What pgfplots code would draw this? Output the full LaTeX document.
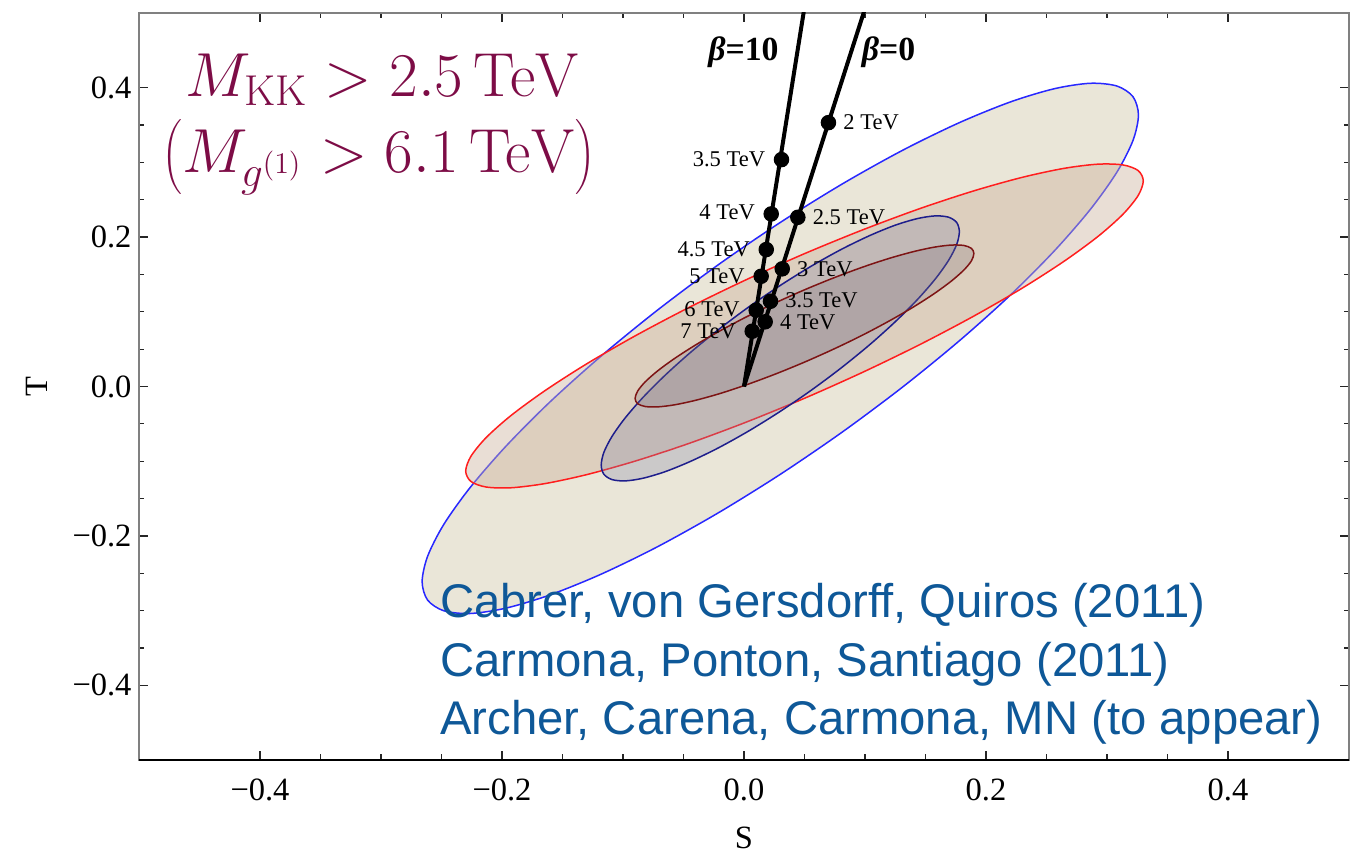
\documentclass[border=0pt]{standalone}
\usepackage[no-math]{fontspec}
\setmainfont{Liberation Serif}
\newfontfamily\helv{Liberation Sans}
\usepackage{pgfplots}
\pgfplotsset{compat=1.18}
\definecolor{kkred}{RGB}{125,12,70}
\definecolor{refblue}{RGB}{14,88,152}
\definecolor{ellblue}{RGB}{40,40,255}
\definecolor{ellred}{RGB}{255,30,30}
\definecolor{ellnavy}{RGB}{30,30,140}
\definecolor{ellmaroon}{RGB}{125,20,20}
\definecolor{fillA}{rgb}{0.82,0.78,0.66}
\definecolor{fillB}{rgb}{0.80,0.70,0.62}
\definecolor{fillC}{rgb}{0.52,0.53,0.66}
\definecolor{fillD}{rgb}{0.50,0.45,0.48}
\begin{document}
\begin{tikzpicture}[
  labR/.style={anchor=west, inner sep=0pt, xshift=5.8pt, font=\fontsize{9}{9}\selectfont},
  labL/.style={anchor=east, inner sep=0pt, xshift=-6.4pt, font=\fontsize{9}{9}\selectfont},
  refs/.style={anchor=base west, inner sep=0pt, text=refblue, font=\helv\fontsize{18.9}{18.9}\selectfont},
  kk/.style={anchor=base, inner sep=0pt, text=kkred, font=\fontsize{23}{23}\selectfont},
]
\begin{axis}[
  scale only axis, width=484pt, height=298.8pt,
  xmin=-0.5, xmax=0.5, ymin=-0.5, ymax=0.5,
  xtick={-0.4,-0.2,0,0.2,0.4}, ytick={-0.4,-0.2,0,0.2,0.4},
  xticklabels={\textrm{−0.4},\textrm{−0.2},\textrm{0.0},\textrm{0.2},\textrm{0.4}},
  yticklabels={\textrm{−0.4},\textrm{−0.2},\textrm{0.0},\textrm{0.2},\textrm{0.4}},
  minor x tick num=3, minor y tick num=3,
  tick align=inside,
  major tick length=3.6pt, minor tick length=2.2pt,
  tick style={black!85, line width=0.5pt},
  axis line style={black!50, line width=0.8pt},
  ticklabel style={font=\fontsize{13}{13}\selectfont},
  xticklabel style={inner sep=0pt, yshift=-7.2pt},
  yticklabel style={inner sep=0pt, xshift=-2.8pt},
  xlabel={S}, ylabel={T},
  label style={font=\fontsize{13}{13}\selectfont, inner sep=0pt},
  xlabel style={at={([yshift=-31pt]axis description cs:0.5,0)}, anchor=center},
  ylabel style={at={([xshift=-41pt]axis description cs:0,0.5)}, anchor=center},
]
% large (outer) blue-outlined ellipse
\addplot[draw=ellblue, line width=0.6pt, fill=fillA, fill opacity=0.45, smooth cycle] coordinates {
(0.326,0.3634) (0.3215,0.3879) (0.3082,0.4022) (0.2863,0.4059) (0.2567,0.3987) (0.2203,0.3810) (0.178,0.3532) (0.1312,0.3163) (0.0814,0.2713) (0.030,0.2196) (-0.0214,0.1628) (-0.0712,0.1026) (-0.118,0.0408) (-0.1603,-0.0206) (-0.1967,-0.0799) (-0.2263,-0.1352) (-0.2482,-0.1849) (-0.2615,-0.2274) (-0.266,-0.2614) (-0.2615,-0.2859) (-0.2482,-0.3002) (-0.2263,-0.3039) (-0.1967,-0.2967) (-0.1603,-0.2790) (-0.118,-0.2512) (-0.0712,-0.2143) (-0.0214,-0.1693) (0.030,-0.1176) (0.0814,-0.0608) (0.1312,-0.0006) (0.178,0.0612) (0.2203,0.1226) (0.2567,0.1819) (0.2863,0.2372) (0.3082,0.2869) (0.3215,0.3294)
};
% large red-outlined ellipse
\addplot[draw=ellred, line width=0.6pt, fill=fillB, fill opacity=0.43, smooth cycle] coordinates {
(0.330,0.2752) (0.3257,0.2891) (0.3131,0.2966) (0.2925,0.2976) (0.2645,0.2920) (0.2300,0.2800) (0.190,0.2619) (0.1458,0.2384) (0.0986,0.2100) (0.050,0.1778) (0.0014,0.1426) (-0.0458,0.1055) (-0.090,0.0677) (-0.1300,0.0303) (-0.1645,-0.0056) (-0.1925,-0.0388) (-0.2131,-0.0684) (-0.2257,-0.0935) (-0.230,-0.1132) (-0.2257,-0.1271) (-0.2131,-0.1346) (-0.1925,-0.1356) (-0.1645,-0.1300) (-0.1300,-0.1180) (-0.090,-0.0999) (-0.0458,-0.0764) (0.0014,-0.0480) (0.050,-0.0158) (0.0986,0.0194) (0.1458,0.0565) (0.190,0.0943) (0.2300,0.1317) (0.2645,0.1676) (0.2925,0.2008) (0.3131,0.2304) (0.3257,0.2555)
};
% small navy ellipse
\addplot[draw=ellnavy, line width=0.6pt, fill=fillC, fill opacity=0.3, smooth cycle] coordinates {
(0.178,0.2072) (0.1758,0.2195) (0.1691,0.2266) (0.1582,0.2284) (0.1434,0.2248) (0.1251,0.2160) (0.104,0.2021) (0.0806,0.1837) (0.0557,0.1612) (0.030,0.1353) (0.0043,0.1069) (-0.0206,0.0768) (-0.044,0.0459) (-0.0651,0.0152) (-0.0834,-0.0145) (-0.0982,-0.0421) (-0.1091,-0.0669) (-0.1158,-0.0882) (-0.118,-0.1052) (-0.1158,-0.1175) (-0.1091,-0.1246) (-0.0982,-0.1264) (-0.0834,-0.1228) (-0.0651,-0.1140) (-0.044,-0.1001) (-0.0206,-0.0817) (0.0043,-0.0592) (0.030,-0.0333) (0.0557,-0.0049) (0.0806,0.0252) (0.104,0.0561) (0.1251,0.0868) (0.1434,0.1165) (0.1582,0.1441) (0.1691,0.1689) (0.1758,0.1902)
};
% small maroon ellipse
\addplot[draw=ellmaroon, line width=0.6pt, fill=fillD, fill opacity=0.27, smooth cycle] coordinates {
(0.190,0.1781) (0.1879,0.1850) (0.1816,0.1888) (0.1712,0.1893) (0.1572,0.1865) (0.1400,0.1805) (0.120,0.1715) (0.0979,0.1597) (0.0743,0.1455) (0.050,0.1294) (0.0257,0.1118) (0.0021,0.0933) (-0.020,0.0743) (-0.0400,0.0556) (-0.0572,0.0377) (-0.0712,0.0211) (-0.0816,0.0063) (-0.0879,-0.0062) (-0.090,-0.0161) (-0.0879,-0.0230) (-0.0816,-0.0268) (-0.0712,-0.0273) (-0.0572,-0.0245) (-0.0400,-0.0185) (-0.020,-0.0095) (0.0021,0.0023) (0.0257,0.0165) (0.050,0.0326) (0.0743,0.0502) (0.0979,0.0687) (0.120,0.0877) (0.1400,0.1064) (0.1572,0.1243) (0.1712,0.1409) (0.1816,0.1557) (0.1879,0.1680)
};
% beta lines
\addplot[black, line width=1.6pt] coordinates {(0,0) (0.1028,0.52)};
\addplot[black, line width=1.6pt] coordinates {(0,0) (0.0512,0.52)};
% mass points, beta=0
\addplot[only marks, mark=*, mark size=2.9pt, black] coordinates {
(0.0698,0.3532) (0.0445,0.2265) (0.0316,0.1575) (0.0219,0.1141) (0.0175,0.0866)
};
% mass points, beta=10
\addplot[only marks, mark=*, mark size=2.9pt, black] coordinates {
(0.0310,0.3037) (0.0225,0.2310) (0.0184,0.1833) (0.0142,0.1476) (0.0101,0.1021) (0.0068,0.0740)
};
% labels beta=0
\node[labR] at (axis cs:0.0698,0.3532) {2 TeV};
\node[labR] at (axis cs:0.0445,0.2265) {2.5 TeV};
\node[labR] at (axis cs:0.0316,0.1575) {3 TeV};
\node[labR] at (axis cs:0.0219,0.1161) {3.5 TeV};
\node[labR] at (axis cs:0.0175,0.0866) {4 TeV};
% labels beta=10
\node[labL] at (axis cs:0.0310,0.3037) {3.5 TeV};
\node[labL] at (axis cs:0.0225,0.2330) {4 TeV};
\node[labL] at (axis cs:0.0184,0.1833) {4.5 TeV};
\node[labL] at (axis cs:0.0142,0.1476) {5 TeV};
\node[labL] at (axis cs:0.0101,0.1030) {6 TeV};
\node[labL] at (axis cs:0.0068,0.0740) {7 TeV};
\node[font=\fontsize{13.5}{13.5}\selectfont\bfseries] at (axis cs:-0.0005,0.448) {\textit{β}=10};
\node[font=\fontsize{13.5}{13.5}\selectfont\bfseries] at (axis cs:0.1194,0.448) {\textit{β}=0};
% annotations
\node[kk] at (axis cs:-0.2988,0.388) {$M_{\mathrm{KK}} > 2.5\,\mathrm{TeV}$};
\node[kk] at (axis cs:-0.302,0.2863) {$\left(M_{g^{(1)}} > 6.1\,\mathrm{TeV}\right)$};
\node[refs] at (axis cs:-0.2515,-0.309) {Cabrer, von Gersdorff, Quiros (2011)};
\node[refs] at (axis cs:-0.2515,-0.388) {Carmona, Ponton, Santiago (2011)};
\node[refs] at (axis cs:-0.2515,-0.4656) {Archer, Carena, Carmona, MN (to appear)};
\end{axis}
\draw[black, line width=0.8pt] (current axis.south west) -- (current axis.south east);
\pgfresetboundingbox
\path ([shift={(-55.6pt,-36.8pt)}]current axis.south west) rectangle ([shift={(6pt,5.2pt)}]current axis.north east);
\end{tikzpicture}
\end{document}
